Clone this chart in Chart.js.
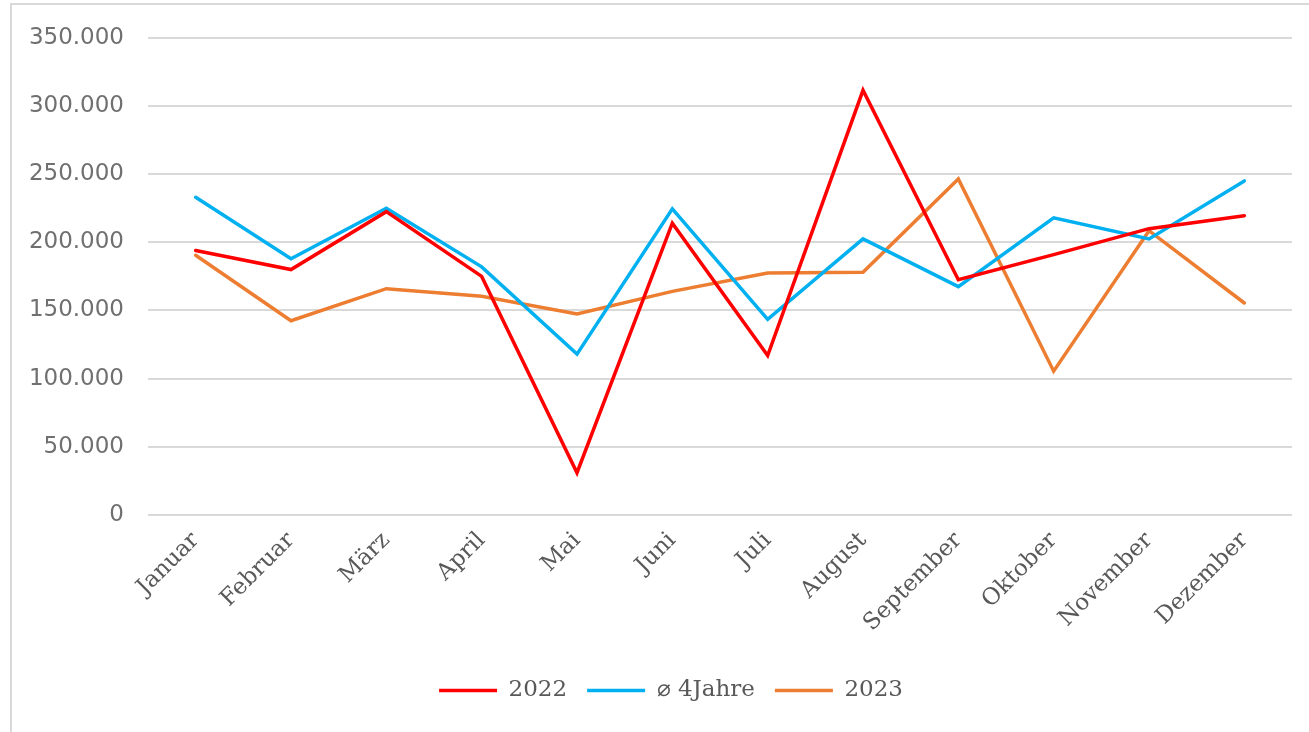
<!DOCTYPE html>
<html>
<head>
<meta charset="utf-8">
<script src="https://cdn.jsdelivr.net/npm/chart.js@4.4.0/dist/chart.umd.min.js"></script>
<style>
  html, body { margin: 0; padding: 0; background: #fff; overflow: hidden; }
  #frame { position: absolute; left: 10px; top: 3px; width: 1400px; height: 800px; border: 2px solid #d9d9d9; }
  #wrap { position: absolute; left: 0; top: 0; width: 1309px; height: 732px; }
</style>
</head>
<body>
<div id="frame"></div>
<div id="wrap"><canvas id="lineChart"></canvas></div>
<script>
// Monatswerte
const months = ['Januar', 'Februar', 'März', 'April', 'Mai', 'Juni', 'Juli', 'August', 'September', 'Oktober', 'November', 'Dezember'];
const values2022 = [194000, 180000, 222500, 175000, 31000, 214000, 117000, 311500, 172500, 191000, 210000, 219500];
const valuesAvg4 = [233000, 188000, 225000, 182000, 118000, 224500, 143500, 202500, 167500, 218000, 202500, 245000];
const values2023 = [190500, 142500, 166000, 160500, 147500, 164000, 177500, 178000, 246500, 105500, 208500, 155500];
const yTicks = [0, 50000, 100000, 150000, 200000, 250000, 300000, 350000];

function fmt(v) {
    return String(v).replace(/\B(?=(\d{3})+(?!\d))/g, '.');
}

function lineSet(label, data, color) {
    return {
        label: label,
        data: data,
        borderColor: color,
        backgroundColor: color,
        borderWidth: 3.5,
        borderCapStyle: 'round',
        pointRadius: 0,
        pointHoverRadius: 0,
        pointStyle: 'line',
        tension: 0,
        fill: false
    };
}

// Legende etwas nach rechts schieben (mittig unter dem Plotbereich)
const legendShift = {
    id: 'legendShift',
    afterLayout: function (chart) {
        if (chart.legend) chart.legend.left += 50;
    }
};

var ctx = document.getElementById("lineChart");
var lineChart = new Chart(ctx, {
    type: 'line',
    data: {
        labels: months,
        datasets: [
            lineSet('2022', values2022, '#ff0000'),
            lineSet('\u2300 4Jahre', valuesAvg4, '#00b0f0'),
            lineSet('2023', values2023, '#ed7d31')
        ]
    },
    options: {
        responsive: true,
        maintainAspectRatio: false,
        animation: false,
        layout: {
            padding: { top: 36, right: 17, bottom: 20, left: 0 }
        },
        scales: {
            x: {
                offset: true,
                grid: { display: false, offset: true },
                border: { display: false },
                ticks: {
                    autoSkip: false,
                    minRotation: 45,
                    maxRotation: 45,
                    padding: 4,
                    color: '#595959',
                    font: { family: '"DejaVu Serif"', size: 23 }
                },
                afterFit: function (scale) { scale.height = 144; }
            },
            y: {
                min: 0,
                max: 350000,
                afterBuildTicks: function (scale) {
                    scale.ticks = yTicks.map(v => ({ value: v }));
                },
                grid: { color: '#d9d9d9', lineWidth: 2, drawTicks: false },
                border: { display: false },
                ticks: {
                    padding: 24,
                    color: '#707070',
                    font: { family: '"DejaVu Sans"', size: 23 },
                    callback: function (value) { return fmt(value); }
                },
                afterFit: function (scale) { scale.width = 148; }
            }
        },
        plugins: {
            legend: {
                display: true,
                position: 'bottom',
                labels: {
                    usePointStyle: true,
                    pointStyleWidth: 58,
                    padding: 20,
                    color: '#595959',
                    font: { family: '"DejaVu Serif"', size: 23 }
                }
            },
            tooltip: { enabled: false }
        }
    },
    plugins: [legendShift]
});
</script>
</body>
</html>
